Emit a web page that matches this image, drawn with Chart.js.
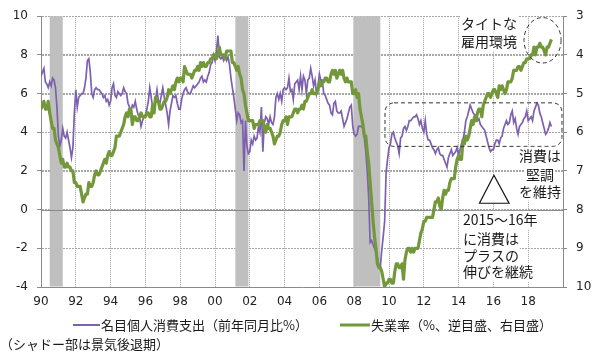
<!DOCTYPE html>
<html><head><meta charset="utf-8">
<script src="https://cdn.jsdelivr.net/npm/chart.js@4.4.1/dist/chart.umd.min.js"></script>
<style>html,body{margin:0;padding:0;background:#fff;}#wrap{width:600px;height:355px;}</style>
</head><body><div id="wrap"><canvas id="c" width="600" height="355"></canvas></div>
<script>
// ---- data ----
const startYear = 1990; // monthly data from Jan 1990
const pce = [
 6.9, 7.1, 7.3, 6.6, 6.5, 6.3, 6.6, 6.4, 6.8, 6.7, 6.3, 5.3,   // 1990
 3.8, 3.3, 3.6, 4.2, 3.8, 3.7, 4.0, 3.6, 3.2, 2.7, 3.2, 5.0,   // 1991
 6.2, 5.3, 5.8, 5.9, 6.0, 6.0, 6.3, 6.8, 7.7, 7.8, 7.1, 6.0,   // 1992
 5.8, 6.2, 6.3, 6.2, 6.2, 6.1, 6.0, 5.8, 5.9, 5.6, 5.7, 5.4,   // 1993
 5.6, 6.3, 6.5, 5.9, 5.8, 6.1, 6.0, 5.9, 6.0, 6.3, 6.1, 6.0,   // 1994
 5.5, 5.3, 5.1, 5.4, 5.3, 5.6, 5.2, 4.9, 4.8, 4.3, 4.6, 4.8,   // 1995
 4.9, 5.2, 5.6, 6.3, 5.8, 5.3, 5.4, 5.7, 6.2, 5.6, 5.5, 5.9,   // 1996
 6.3, 5.8, 5.4, 5.0, 4.4, 5.1, 5.5, 5.9, 5.8, 5.9, 5.5, 5.2,   // 1997
 5.2, 5.7, 6.0, 6.2, 6.3, 6.1, 6.0, 6.0, 6.2, 6.4, 6.3, 6.4,   // 1998
 6.5, 6.6, 6.8, 6.9, 6.6, 6.7, 6.6, 6.9, 7.1, 7.5, 7.6, 8.0,   // 1999
 7.7, 8.2, 9.0, 7.9, 7.8, 7.9, 7.7, 7.9, 7.7, 7.9, 7.5, 6.8,   // 2000
 6.3, 5.8, 5.2, 4.6, 5.0, 4.9, 4.5, 4.6, 2.0, 4.6, 3.3, 2.9,   // 2001
 3.0, 3.6, 3.4, 3.8, 3.6, 3.7, 4.3, 4.0, 5.3, 3.0, 4.5, 4.8,   // 2002
 4.7, 4.4, 4.8, 4.5, 4.4, 4.8, 5.8, 6.0, 5.7, 6.0, 5.6, 6.2,   // 2003
 6.3, 6.2, 6.3, 6.8, 6.1, 6.2, 5.7, 6.5, 6.6, 6.7, 6.2, 6.9,   // 2004
 6.2, 6.9, 6.7, 6.0, 6.7, 6.8, 7.3, 6.9, 6.4, 6.7, 6.0, 6.4,   // 2005
 7.0, 6.7, 6.7, 6.0, 5.9, 5.7, 5.5, 5.4, 5.0, 4.9, 5.5, 5.6,   // 2006
 5.1, 5.0, 5.0, 5.1, 4.7, 4.3, 4.5, 4.7, 5.0, 5.3, 5.4, 4.3,   // 2007
 3.9, 3.8, 3.9, 4.3, 4.3, 4.3, 4.2, 3.7, 3.0, 2.0, 0.6, -1.7,  // 2008
 -1.6, -1.8, -2.0, -2.2, -2.5, -2.9, -3.0, -2.1, -1.4, -0.6, 1.9, 2.6, // 2009
 3.2, 3.4, 3.9, 4.0, 3.7, 3.5, 3.3, 2.9, 3.7, 3.8, 4.2, 4.3,   // 2010
 4.1, 4.3, 4.6, 4.6, 4.7, 4.8, 4.8, 4.9, 4.7, 4.4, 4.6, 4.2,   // 2011
 4.0, 4.6, 3.9, 3.6, 3.6, 3.4, 3.2, 3.1, 2.9, 3.1, 3.2, 2.9,   // 2012
 2.8, 2.8, 2.6, 2.4, 2.2, 2.7, 2.9, 3.1, 2.8, 2.9, 3.0, 3.2,   // 2013
 2.8, 3.1, 3.4, 3.6, 4.0, 4.6, 4.8, 5.1, 5.4, 5.2, 5.0, 4.9,   // 2014
 4.9, 4.6, 4.7, 4.4, 4.3, 4.2, 4.1, 3.8, 3.5, 3.2, 3.0, 3.1,   // 2015
 3.1, 3.4, 3.6, 3.6, 3.4, 3.7, 3.8, 4.2, 4.4, 4.6, 4.4, 4.5,   // 2016
 4.9, 5.1, 4.5, 4.7, 4.2, 3.9, 4.3, 4.4, 4.5, 4.7, 4.8, 5.1,   // 2017
 4.6, 4.7, 4.8, 4.6, 5.1, 5.3, 5.5, 5.4, 5.0, 4.8, 4.5, 4.2,   // 2018
 3.9, 4.0, 4.2, 4.5, 4.3                                       // 2019
];
const unemp = [
 5.4, 5.3, 5.2, 5.4, 5.4, 5.2, 5.5, 5.7, 5.9, 5.9, 6.2, 6.3,   // 1990
 6.4, 6.6, 6.8, 6.7, 6.9, 6.9, 6.8, 6.9, 6.9, 7.0, 7.0, 7.3,   // 1991
 7.3, 7.4, 7.4, 7.4, 7.6, 7.8, 7.7, 7.6, 7.6, 7.3, 7.4, 7.4,   // 1992
 7.3, 7.1, 7.0, 7.1, 7.1, 7.0, 6.9, 6.8, 6.7, 6.8, 6.6, 6.5,   // 1993
 6.6, 6.6, 6.5, 6.4, 6.1, 6.1, 6.1, 6.0, 5.9, 5.8, 5.6, 5.5,   // 1994
 5.6, 5.4, 5.4, 5.8, 5.6, 5.6, 5.7, 5.7, 5.6, 5.5, 5.6, 5.6,   // 1995
 5.6, 5.5, 5.5, 5.6, 5.6, 5.3, 5.5, 5.1, 5.2, 5.2, 5.4, 5.4,   // 1996
 5.3, 5.2, 5.2, 5.1, 4.9, 5.0, 4.9, 4.8, 4.9, 4.7, 4.6, 4.7,   // 1997
 4.6, 4.6, 4.7, 4.3, 4.4, 4.5, 4.5, 4.5, 4.6, 4.5, 4.4, 4.4,   // 1998
 4.3, 4.4, 4.2, 4.3, 4.2, 4.3, 4.3, 4.2, 4.2, 4.1, 4.1, 4.0,   // 1999
 4.0, 4.1, 4.0, 3.8, 4.0, 4.0, 4.0, 4.1, 3.9, 3.9, 3.9, 3.9,   // 2000
 4.2, 4.2, 4.3, 4.4, 4.3, 4.5, 4.6, 4.9, 5.0, 5.3, 5.5, 5.7,   // 2001
 5.7, 5.7, 5.7, 5.9, 5.8, 5.8, 5.8, 5.7, 5.7, 5.7, 5.9, 6.0,   // 2002
 5.8, 5.9, 5.9, 6.0, 6.1, 6.3, 6.2, 6.1, 6.1, 6.0, 5.8, 5.7,   // 2003
 5.7, 5.6, 5.8, 5.6, 5.6, 5.6, 5.5, 5.4, 5.4, 5.5, 5.4, 5.4,   // 2004
 5.3, 5.4, 5.2, 5.2, 5.1, 5.0, 5.0, 4.9, 5.0, 5.0, 5.0, 4.9,   // 2005
 4.7, 4.8, 4.7, 4.7, 4.6, 4.6, 4.7, 4.7, 4.5, 4.4, 4.5, 4.4,   // 2006
 4.6, 4.5, 4.4, 4.5, 4.4, 4.6, 4.7, 4.6, 4.7, 4.7, 4.7, 5.0,   // 2007
 5.0, 4.9, 5.1, 5.0, 5.4, 5.6, 5.8, 6.1, 6.1, 6.5, 6.8, 7.3,   // 2008
 7.8, 8.3, 8.7, 9.0, 9.4, 9.5, 9.5, 9.6, 9.8, 10.0, 9.9, 9.9,  // 2009
 9.8, 9.8, 9.9, 9.9, 9.6, 9.4, 9.4, 9.5, 9.5, 9.4, 9.8, 9.3,   // 2010
 9.1, 9.0, 9.0, 9.1, 9.0, 9.1, 9.0, 9.0, 9.0, 8.8, 8.6, 8.5,   // 2011
 8.3, 8.3, 8.2, 8.2, 8.2, 8.2, 8.2, 8.0, 7.8, 7.8, 7.7, 7.9,   // 2012
 8.0, 7.7, 7.5, 7.6, 7.5, 7.5, 7.3, 7.2, 7.2, 7.2, 6.9, 6.7,   // 2013
 6.6, 6.7, 6.7, 6.2, 6.3, 6.1, 6.2, 6.1, 5.9, 5.7, 5.8, 5.6,   // 2014
 5.7, 5.5, 5.4, 5.4, 5.6, 5.3, 5.2, 5.1, 5.0, 5.0, 5.1, 5.0,   // 2015
 4.9, 4.9, 5.0, 5.1, 4.8, 4.9, 4.8, 4.9, 5.0, 4.9, 4.7, 4.7,   // 2016
 4.7, 4.6, 4.4, 4.4, 4.4, 4.3, 4.3, 4.4, 4.3, 4.2, 4.2, 4.1,   // 2017
 4.1, 4.1, 4.0, 4.0, 3.8, 4.0, 3.8, 3.8, 3.7, 3.8, 3.8, 3.9,   // 2018
 4.0, 3.8, 3.8, 3.7, 3.6                                       // 2019
];
const xTickYears  = [1990,1992,1994,1996,1998,2000,2002,2004,2006,2008,2010,2012,2014,2016,2018];
const xTickLabels = ['90','92','94','96','98','00','02','04','06','08','10','12','14','16','18'];
const leftTicks  = [-4,-2,0,2,4,6,8,10];
const rightTicks = [3,4,5,6,7,8,9,10];
const recessions = [[1990.5,1991.25],[2001.17,2001.92],[2007.95,2009.5]];
const seriesNames = ['名目個人消費支出（前年同月比%）','失業率（%、逆目盛、右目盛）'];
const noteText = '（シャドー部は景気後退期）';
const tightText = ['タイトな','雇用環境'];
const firmText = ['消費は','堅調','を維持'];
const plusText = ['2015～16年','に消費は','プラスの','伸びを継続'];

// ---- styles ----
const PURPLE = '#7D60AE', GREEN = '#72983A';
const JP = "'Noto Sans CJK JP', 'Noto Sans', sans-serif";
const NUM = "'DejaVu Sans', Verdana, sans-serif";
const GRID = '#A0A0A0', HGRID = '#A8A8A8', AXIS = '#8A8A8A';

const toXY = arr => arr.map((v,i) => ({x: startYear + i/12, y: v}));

function textBox(ctx, txt, x, y, align){
  const w = ctx.measureText(txt).width;
  const lx = align === 'center' ? x - w/2 : x;
  ctx.fillStyle = '#fff';
  ctx.fillRect(lx - 1, y - 9, w + 2, 18);
  ctx.fillStyle = '#1a1a1a';
  ctx.textAlign = 'left';
  ctx.fillText(txt, lx, y);
}

const decor = {
  id: 'decor',
  beforeDatasetsDraw(chart){
    const {ctx, chartArea:{left,right,top,bottom}, scales:{x,y}} = chart;
    ctx.save();
    // horizontal dotted grid at the left-axis ticks
    ctx.strokeStyle = HGRID; ctx.lineWidth = 1; ctx.setLineDash([2,1]);
    leftTicks.forEach(v => {
      if (v === -4 || v === 0) return;
      const py = Math.round(y.getPixelForValue(v)) + 0.5;
      ctx.beginPath(); ctx.moveTo(left + 1, py); ctx.lineTo(right, py); ctx.stroke();
    });
    ctx.setLineDash([]);
    ctx.fillStyle = '#BFBFBF';
    recessions.forEach(([s,e]) => {
      const a = x.getPixelForValue(s), b = x.getPixelForValue(e);
      ctx.fillRect(a, top, b - a, bottom - top - 0.5);
    });
    // solid zero line
    const y0 = Math.round(y.getPixelForValue(0)) + 0.5;
    ctx.strokeStyle = AXIS; ctx.lineWidth = 1;
    ctx.beginPath(); ctx.moveTo(left, y0); ctx.lineTo(right, y0); ctx.stroke();
    ctx.restore();
  },
  afterDatasetsDraw(chart){
    const {ctx, scales:{x,y}} = chart;
    const P = (t,v) => [x.getPixelForValue(t), y.getPixelForValue(v)];
    ctx.save();
    ctx.strokeStyle = '#333'; ctx.lineWidth = 1; ctx.setLineDash([4,3]);
    // dashed rounded box around 2010s consumption
    const [bx0,by0] = P(2009.77, 5.52), [bx1,by1] = P(2019.94, 3.27);
    ctx.beginPath(); ctx.roundRect(bx0, by0, bx1-bx0, by1-by0, 9); ctx.stroke();
    // dashed ellipse around latest unemployment
    const [ex0,ey0] = P(2017.76, 9.93), [ex1,ey1] = P(2019.89, 7.58);
    ctx.beginPath(); ctx.ellipse((ex0+ex1)/2, (ey0+ey1)/2, (ex1-ex0)/2, (ey1-ey0)/2, 0, 0, Math.PI*2); ctx.stroke();
    // triangle
    ctx.setLineDash([]);
    const ta = P(2016.03, 1.78), tb = P(2015.2, 0.33), tc = P(2016.9, 0.33);
    ctx.beginPath(); ctx.moveTo(...ta); ctx.lineTo(...tb); ctx.lineTo(...tc); ctx.closePath();
    ctx.fillStyle = '#fff'; ctx.fill(); ctx.strokeStyle = '#111'; ctx.lineWidth = 1.2; ctx.stroke();
    // texts
    ctx.font = '14px ' + JP; ctx.textBaseline = 'middle';
    const tl = [2014.14, 2014.14], tv = [9.63, 8.68];
    tightText.forEach((s,i) => { const [px,py] = P(tl[i], tv[i]); textBox(ctx, s, px, py, 'left'); });
    const fv = [2.78, 1.83, 0.93];
    firmText.forEach((s,i) => { const [px,py] = P(2018.68, fv[i]); textBox(ctx, s, px, py, 'center'); });
    const pv = [-0.53, -1.48, -2.38, -3.23];
    plusText.forEach((s,i) => { const [px,py] = P(2014.25, pv[i]); textBox(ctx, s, px, py, 'left'); });
    ctx.restore();
  },
  afterDraw(chart){
    const {ctx} = chart;
    ctx.save();
    ctx.font = '13px ' + JP; ctx.textBaseline = 'middle'; ctx.fillStyle = '#1a1a1a';
    // legend
    const ly = 325;
    ctx.lineCap = 'butt';
    ctx.strokeStyle = PURPLE; ctx.lineWidth = 2;
    ctx.beginPath(); ctx.moveTo(73, ly); ctx.lineTo(100, ly); ctx.stroke();
    ctx.fillText(seriesNames[0], 101, ly);
    ctx.strokeStyle = GREEN; ctx.lineWidth = 3;
    ctx.beginPath(); ctx.moveTo(340, ly); ctx.lineTo(370, ly); ctx.stroke();
    ctx.fillText(seriesNames[1], 371, ly);
    // note
    ctx.fillText(noteText, 0, 344);
    ctx.restore();
  }
};

new Chart(document.getElementById('c'), {
  type: 'line',
  data: {
    datasets: [
      {label: seriesNames[0], data: toXY(pce), yAxisID: 'y', borderColor: PURPLE, backgroundColor: PURPLE,
       borderWidth: 1.7, pointRadius: 0, tension: 0, order: 1},
      {label: seriesNames[1], data: toXY(unemp), yAxisID: 'y2', borderColor: GREEN, backgroundColor: GREEN,
       borderWidth: 3.2, pointRadius: 0, tension: 0, order: 0, borderJoinStyle: 'round'}
    ]
  },
  options: {
    responsive: false, devicePixelRatio: 1, animation: false,
    layout: {padding: {top: 8, left: 0, right: 0, bottom: 45}},
    plugins: {legend: {display: false}, tooltip: {enabled: false}},
    scales: {
      x: {
        type: 'linear', min: 1990, max: 2020,
        afterBuildTicks: s => { s.ticks = xTickYears.map(v => ({value: v})); },
        afterFit: s => { s.height = 23; },
        ticks: {autoSkip: false, maxRotation: 0, padding: 8, color: '#222', font: {family: NUM, size: 12},
                callback: (v, i) => xTickLabels[i]},
        grid: {color: GRID, drawTicks: false},
        border: {color: AXIS, dash: [1,1]}
      },
      y: {
        position: 'left', min: -4, max: 10,
        afterBuildTicks: s => { s.ticks = leftTicks.map(v => ({value: v})); },
        afterFit: s => { s.width = 41; },
        ticks: {padding: 9, color: '#222', font: {family: NUM, size: 12}, callback: v => String(v)},
        grid: {color: HGRID, tickLength: 4, tickColor: AXIS},
        border: {color: AXIS, dash: [2,1]}
      },
      y2: {
        position: 'right', min: 3, max: 10, reverse: true,
        afterBuildTicks: s => { s.ticks = rightTicks.map(v => ({value: v})); },
        afterFit: s => { s.width = 37; },
        ticks: {padding: 9, color: '#222', font: {family: NUM, size: 12}, callback: v => String(v)},
        grid: {drawOnChartArea: false, tickLength: 4, tickColor: AXIS},
        border: {color: AXIS}
      }
    }
  },
  plugins: [decor]
});
</script></body></html>
